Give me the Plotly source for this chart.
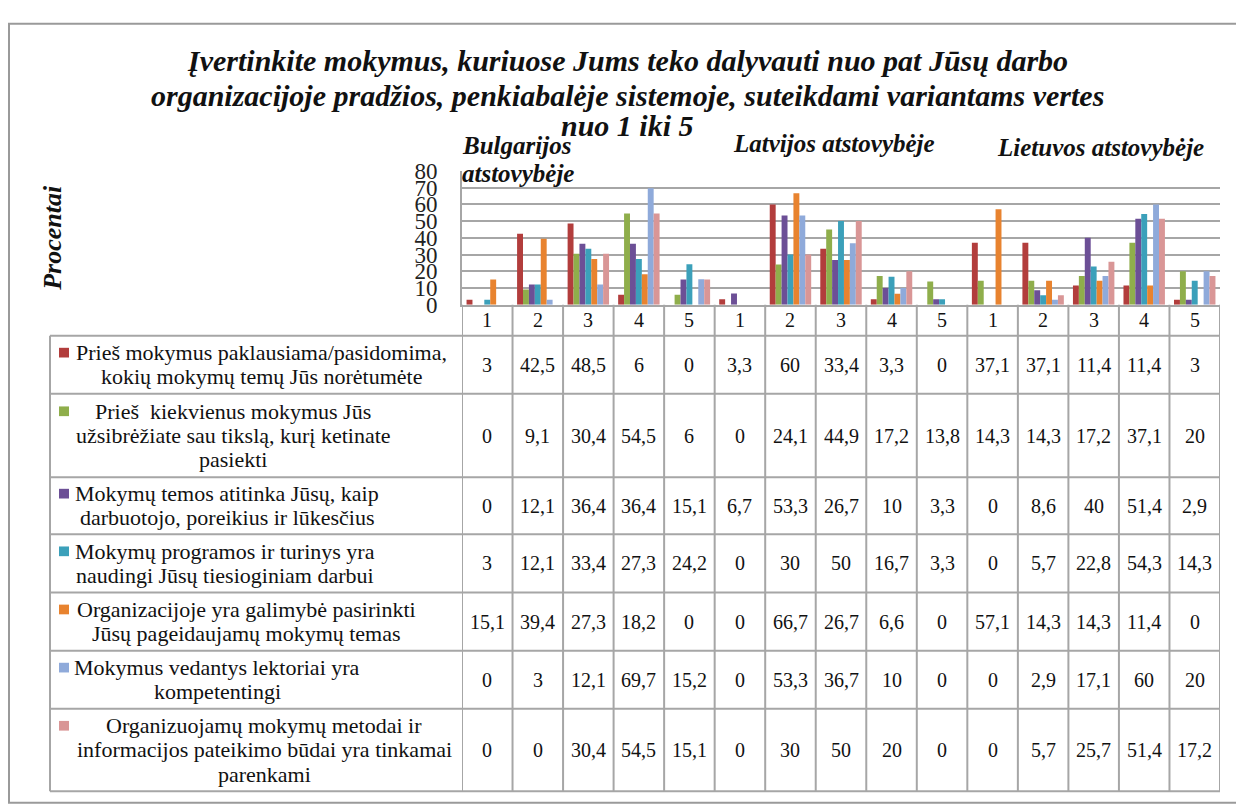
import plotly.graph_objects as go

# ---------------- data ----------------
title_lines = [
    "Įvertinkite mokymus, kuriuose Jums teko dalyvauti nuo pat Jūsų darbo",
    "organizacijoje pradžios, penkiabalėje sistemoje, suteikdami variantams vertes",
    "nuo 1 iki 5",
]
y_title = "Procentai"
groups = ["Bulgarijos<br>atstovybėje", "Latvijos atstovybėje", "Lietuvos atstovybėje"]
categories = ["1", "2", "3", "4", "5", "1", "2", "3", "4", "5", "1", "2", "3", "4", "5"]

series_names = [
    "Prieš mokymus paklausiama/pasidomima,<br>kokių mokymų temų Jūs norėtumėte",
    "Prieš  kiekvienus mokymus Jūs<br>užsibrėžiate sau tikslą, kurį ketinate<br>pasiekti",
    "Mokymų temos atitinka Jūsų, kaip<br>darbuotojo, poreikius ir lūkesčius",
    "Mokymų programos ir turinys yra<br>naudingi Jūsų tiesioginiam darbui",
    "Organizacijoje yra galimybė pasirinkti<br>Jūsų pageidaujamų mokymų temas",
    "Mokymus vedantys lektoriai yra<br>kompetentingi",
    "Organizuojamų mokymų metodai ir<br>informacijos pateikimo būdai yra tinkamai<br>parenkami",
]

s1 = [3, 42.5, 48.5, 6, 0, 3.3, 60, 33.4, 3.3, 0, 37.1, 37.1, 11.4, 11.4, 3]
s2 = [0, 9.1, 30.4, 54.5, 6, 0, 24.1, 44.9, 17.2, 13.8, 14.3, 14.3, 17.2, 37.1, 20]
s3 = [0, 12.1, 36.4, 36.4, 15.1, 6.7, 53.3, 26.7, 10, 3.3, 0, 8.6, 40, 51.4, 2.9]
s4 = [3, 12.1, 33.4, 27.3, 24.2, 0, 30, 50, 16.7, 3.3, 0, 5.7, 22.8, 54.3, 14.3]
s5 = [15.1, 39.4, 27.3, 18.2, 0, 0, 66.7, 26.7, 6.6, 0, 57.1, 14.3, 14.3, 11.4, 0]
s6 = [0, 3, 12.1, 69.7, 15.2, 0, 53.3, 36.7, 10, 0, 0, 2.9, 17.1, 60, 20]
s7 = [0, 0, 30.4, 54.5, 15.1, 0, 30, 50, 20, 0, 0, 5.7, 25.7, 51.4, 17.2]
series_values = [s1, s2, s3, s4, s5, s6, s7]

# ---------------- style ----------------
colors = ["#B23D3C", "#8FAE4B", "#6C4F96", "#3BA0BA", "#E8832F", "#8FAADA", "#D99696"]
SERIF = "'Liberation Serif', 'Times New Roman', serif"
GRID = "#A6A6A6"
W, H = 1236, 810

def px(x):
    return x / W

def py(y):
    return 1 - y / H

plot_left, plot_right, plot_top, plot_bottom = 462, 1220, 164, 302
table_left = 50
row_lines = [334, 394, 480, 539, 599, 659, 719, 804]
label_centers = [261, 233, 227, 225, 246, 217, 264]
group_pos = [(460, 138, "left"), (834, 136, "center"), (1100, 140, "center")]
line_h = 25
title_y = [50, 86, 117]

def fmt(v):
    if float(v).is_integer():
        return str(int(v))
    return f"{v:.1f}".replace(".", ",")

x_idx = list(range(len(categories)))

fig = go.Figure()
for name, vals, col in zip(series_names, series_values, colors):
    fig.add_trace(go.Bar(
        x=x_idx, y=vals, name=name.replace("<br>", " "),
        marker=dict(color=col, line=dict(width=0)),
        showlegend=False,
    ))

shapes = []
annotations = []

# outer frame
shapes.append(dict(type="rect", xref="paper", yref="paper",
                   x0=px(9), x1=px(W + 6), y0=py(H + 6), y1=py(12),
                   line=dict(color="#9A9A9A", width=2), layer="below"))

# table horizontal lines
for y in row_lines:
    shapes.append(dict(type="line", xref="paper", yref="paper",
                       x0=px(table_left), x1=px(plot_right), y0=py(y), y1=py(y),
                       line=dict(color=GRID, width=2)))
# left column vertical line
shapes.append(dict(type="line", xref="paper", yref="paper",
                   x0=px(table_left), x1=px(table_left), y0=py(row_lines[0]), y1=py(row_lines[-1]),
                   line=dict(color=GRID, width=2)))
# category column separators
for k in range(len(categories) + 1):
    shapes.append(dict(type="line", xref="x", yref="paper",
                       x0=k - 0.5, x1=k - 0.5, y0=py(plot_bottom), y1=py(row_lines[-1]),
                       line=dict(color=GRID, width=2)))

# category labels
for k, c in enumerate(categories):
    annotations.append(dict(x=k, y=py(318), xref="x", yref="paper", text=c,
                            showarrow=False, font=dict(family=SERIF, size=20, color="#111"),
                            xanchor="center", yanchor="middle"))

# table rows
for i, (name, vals, col) in enumerate(zip(series_names, series_values, colors)):
    top, bot = row_lines[i], row_lines[i + 1]
    cy = (top + bot) / 2
    lines = name.split("<br>")
    n = len(lines)
    for j, ln in enumerate(lines):
        ly = cy + (j - (n - 1) / 2) * line_h
        annotations.append(dict(x=px(label_centers[i]), y=py(ly), xref="paper", yref="paper",
                                text=ln, showarrow=False, align="center",
                                font=dict(family=SERIF, size=22, color="#111"),
                                xanchor="center", yanchor="middle"))
    ky = cy - (n - 1) / 2 * line_h
    shapes.append(dict(type="rect", xref="paper", yref="paper",
                       x0=px(59), x1=px(69), y0=py(ky + 5), y1=py(ky - 5),
                       fillcolor=col, line=dict(width=0)))
    for k, v in enumerate(vals):
        annotations.append(dict(x=k, y=py(cy), xref="x", yref="paper", text=fmt(v),
                                showarrow=False, font=dict(family=SERIF, size=20, color="#111"),
                                xanchor="center", yanchor="middle"))

# title
for t, y in zip(title_lines, title_y):
    annotations.append(dict(x=px(627), y=py(y), xref="paper", yref="paper",
                            text=f"<b><i>{t}</i></b>", showarrow=False,
                            font=dict(family=SERIF, size=30, color="#111"),
                            xanchor="center", yanchor="middle"))

# group labels
for g, (gx, gy, anc) in zip(groups, group_pos):
    for j, ln in enumerate(g.split("<br>")):
        annotations.append(dict(x=px(gx), y=py(gy + j * 29), xref="paper", yref="paper",
                                text=f"<b><i>{ln}</i></b>", showarrow=False, align="left",
                                font=dict(family=SERIF, size=25, color="#111"),
                                xanchor=anc, yanchor="middle"))

# y title
annotations.append(dict(x=px(53), y=py(233), xref="paper", yref="paper",
                        text=f"<b><i>{y_title}</i></b>", showarrow=False, textangle=-90,
                        font=dict(family=SERIF, size=26, color="#111"),
                        xanchor="center", yanchor="middle"))

fig.update_layout(
    width=W, height=H,
    margin=dict(l=0, r=0, t=0, b=0),
    paper_bgcolor="white", plot_bgcolor="white",
    barmode="group", bargap=0.18, bargroupgap=0,
    shapes=shapes, annotations=annotations,
    xaxis=dict(domain=[px(plot_left), px(plot_right)], range=[-0.5, len(categories) - 0.5],
               showticklabels=False, showgrid=False, zeroline=False, ticks="",
               showline=True, linecolor=GRID, linewidth=2, fixedrange=True),
    yaxis=dict(domain=[py(plot_bottom), py(plot_top)], range=[0, 80], dtick=10,
               showgrid=True, gridcolor=GRID, gridwidth=2, zeroline=False,
               showline=True, linecolor=GRID, linewidth=2, ticks="",
               ticklabelstandoff=18,
               tickfont=dict(family=SERIF, size=23, color="#222"), fixedrange=True),
    font=dict(family=SERIF),
)

fig.write_html("out.html")
